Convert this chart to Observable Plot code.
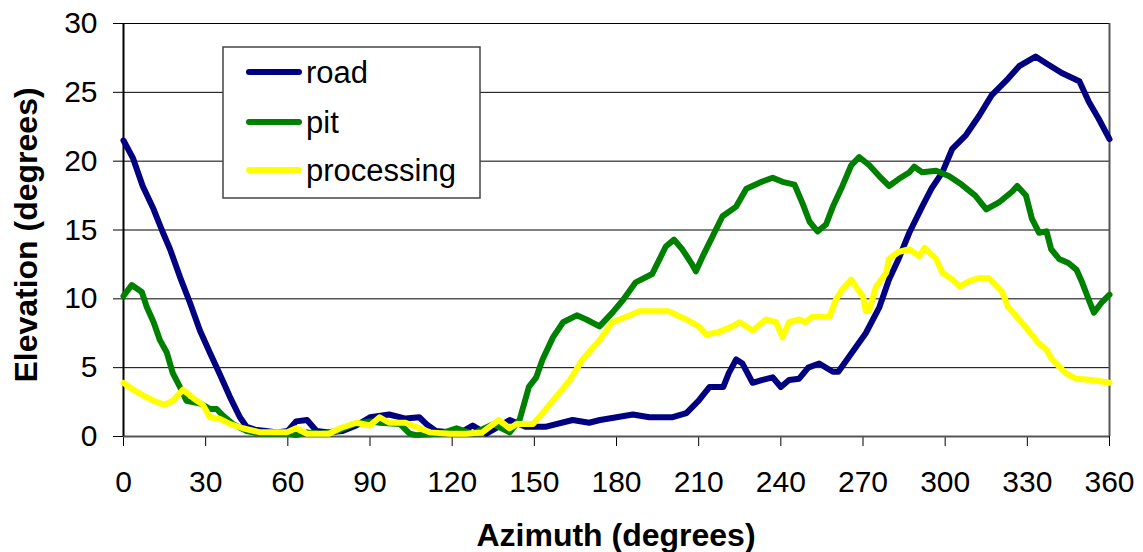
<!DOCTYPE html>
<html>
<head>
<meta charset="utf-8">
<script src="https://cdn.jsdelivr.net/npm/d3@7"></script>
<script src="https://cdn.jsdelivr.net/npm/@observablehq/plot@0.6"></script>
<style>
  html, body { margin: 0; padding: 0; background: #fff; }
  #chart { position: relative; width: 1143px; height: 552px; }
</style>
</head>
<body>
<div id="chart"></div>
<script>
// Azimuth (degrees), Elevation (degrees) for each series
const road = [
  [0,21.5],[3.5,20.2],[7,18.2],[11,16.5],[14,15],[17,13.6],[20.6,11.6],[24.3,9.7],[27.9,7.7],[31.5,6.1],
  [35,4.6],[38.8,2.9],[42.5,1.4],[45,0.7],[48,0.5],[52,0.4],[56,0.3],[60,0.4],[63,1.1],[67,1.2],
  [70.5,0.4],[75,0.3],[80,0.4],[85,0.8],[90,1.4],[97,1.6],[103,1.3],[108,1.4],[110.6,0.9],[114,0.4],
  [120,0.3],[124,0.4],[127.5,0.8],[132.5,0.2],[136,0.6],[141,1.2],[147,0.7],[154,0.7],[164,1.2],[170,1.0],
  [174,1.2],[180,1.4],[186,1.6],[192,1.4],[200.5,1.4],[205.5,1.7],[210,2.6],[214,3.6],[219,3.6],[221,4.6],
  [223.7,5.6],[226,5.3],[229.7,3.9],[233,4.1],[237,4.3],[240,3.6],[243,4.1],[246.7,4.2],[250,5.0],[254,5.3],
  [259,4.7],[261,4.7],[266,6.1],[271,7.5],[276,9.4],[279.5,11.4],[283,12.9],[286.9,14.8],[291.6,16.7],[295,18.0],
  [299,19.2],[302.6,20.9],[307.6,21.9],[312.4,23.3],[317,24.8],[323,26.0],[327,26.9],[333,27.6],[337,27.1],[342.6,26.4],
  [349,25.8],[352.5,24.3],[356,23.1],[360,21.6]
];
const pit = [
  [0,10.2],[3,11],[6.7,10.5],[8.5,9.4],[11,8.3],[13.3,7.0],[15.8,6.1],[18,4.6],[20.6,3.6],[23,2.6],
  [28,2.4],[31.5,2.0],[34,2.0],[36.4,1.5],[40,0.9],[45,0.4],[50,0.2],[60,0.2],[63,0.1],[67,0.3],
  [72,0.2],[78,0.4],[84,0.9],[90,1.1],[93.5,1.0],[101,0.9],[104.5,0.2],[107,0.1],[115.5,0.2],[121.6,0.6],
  [127.5,0.2],[135,0.9],[141,0.3],[144.6,1.2],[148,3.6],[150.7,4.3],[153,5.6],[156.8,7.2],[160.5,8.3],[165.5,8.8],
  [169,8.5],[173.8,8.0],[178.5,9.0],[182.3,9.9],[187,11.2],[193,11.8],[195,12.6],[198,13.8],[201,14.3],[204,13.6],
  [207.3,12.6],[209,12.0],[211.5,13.1],[214,14.1],[218.7,16.0],[223.7,16.7],[227.4,18.0],[233,18.5],[237,18.8],[240.6,18.5],
  [245,18.3],[248,16.9],[250.5,15.6],[253.4,14.9],[256.5,15.4],[259,16.7],[262.5,18.2],[265.7,19.7],[268.6,20.3],[272.3,19.7],
  [276,18.9],[279.5,18.2],[283,18.7],[287,19.2],[288.7,19.6],[291.6,19.2],[296.7,19.3],[301.5,18.9],[306,18.3],[311,17.5],
  [315,16.5],[319.6,17.0],[324.5,17.8],[326.3,18.2],[329.5,17.5],[331.7,15.8],[334.3,14.8],[337,14.9],[338.7,13.6],[341.6,12.9],
  [345,12.6],[348,12.1],[350,11.2],[352.5,9.9],[354.3,9.0],[357,9.7],[360,10.3]
];
const processing = [
  [0,3.9],[3.5,3.4],[7,3.0],[11,2.6],[15,2.3],[18,2.6],[21.7,3.4],[25.4,2.8],[29,2.3],[31.5,1.4],
  [35,1.3],[39,0.9],[43.6,0.6],[50,0.3],[59.6,0.3],[63,0.6],[67,0.2],[75,0.2],[79,0.6],[85,1.0],
  [90,0.8],[93.5,1.4],[97,1.0],[103,1.0],[108,0.6],[112,0.3],[119,0.2],[125,0.2],[131,0.3],[137,1.2],
  [141,0.6],[143.5,0.9],[149.5,0.9],[153,1.7],[158,2.9],[163,4.1],[167.6,5.6],[173.8,7.0],[178.5,8.3],[183.6,8.7],
  [188.4,9.1],[199,9.1],[205.5,8.5],[210,8.0],[212.8,7.4],[217.5,7.6],[222.3,8.0],[225,8.3],[229.7,7.7],[234.6,8.5],
  [238.3,8.3],[240.6,7.2],[243,8.3],[246.7,8.5],[249,8.3],[251.6,8.7],[257.8,8.7],[260,9.9],[262.5,10.7],[265.7,11.4],
  [268,10.7],[270,10.2],[271,9.1],[272.3,9.2],[274.8,10.9],[278.5,11.9],[279.5,12.9],[283,13.4],[286.9,13.6],[290.6,13.1],
  [292.5,13.7],[296.7,12.9],[299,11.9],[302.6,11.4],[305.3,10.9],[309,11.3],[312.4,11.5],[316,11.5],[320.8,10.5],[323,9.4],
  [327,8.5],[330.4,7.7],[334,6.8],[337,6.3],[339,5.6],[344,4.6],[347.7,4.2],[353.6,4.1],[360,3.9]
];
const seriesNames = ["road", "pit", "processing"];
const seriesColors = ["#000080", "#008000", "#FFFF00"];
const xTicks = [0,30,60,90,120,150,180,210,240,270,300,330,360];
const yTicks = [0,5,10,15,20,25,30];
const gridValues = [5,10,15,20,25,30];
const xLabel = "Azimuth (degrees)";
const yLabel = "Elevation (degrees)";

const seriesData = [road, pit, processing];

const W = 1143, H = 552;
const FONT = "'Liberation Sans', Arial, sans-serif";
const plot = Plot.plot({
  width: W,
  height: H,
  marginLeft: 123,
  marginRight: 34,
  marginTop: 23,
  marginBottom: 116,
  style: { fontFamily: FONT, fontSize: "30px", color: "#000", background: "#fff", overflow: "visible" },
  x: { domain: [0, 360], ticks: xTicks, tickSize: 10, tickPadding: 24, label: null },
  y: { domain: [0, 30], ticks: yTicks, tickSize: 10, tickPadding: 16, label: null },
  marks: [
    Plot.ruleY(gridValues, { stroke: "#000", strokeWidth: 1 }),
    Plot.ruleX([360], { stroke: "#555", strokeWidth: 2 }),
    Plot.ruleY([0], { stroke: "#555", strokeWidth: 2 }),
    Plot.ruleX([0], { stroke: "#000", strokeWidth: 2 }),
    ...seriesData.map((s, i) => Plot.line(s, {
      x: d => d[0], y: d => d[1],
      stroke: seriesColors[i], strokeWidth: 6,
      strokeLinejoin: "round", strokeLinecap: "round"
    }))
  ]
});

const svg = d3.select(plot);
// Axis titles
svg.append("text")
  .attr("x", 616).attr("y", 546)
  .attr("text-anchor", "middle")
  .attr("font-family", FONT)
  .attr("font-size", 32).attr("font-weight", "bold")
  .text(xLabel);
svg.append("text")
  .attr("transform", "translate(37,235) rotate(-90)")
  .attr("text-anchor", "middle")
  .attr("font-family", FONT)
  .attr("font-size", 32).attr("font-weight", "bold")
  .text(yLabel);

// Legend box
const lg = svg.append("g").attr("text-anchor", "start");
lg.append("rect").attr("x", 223).attr("y", 47).attr("width", 257).attr("height", 151)
  .attr("fill", "#fff").attr("stroke", "#444").attr("stroke-width", 1.5);
const legendY = [72, 122, 170];
seriesNames.forEach((name, i) => {
  lg.append("line").attr("x1", 249).attr("x2", 299).attr("y1", legendY[i]).attr("y2", legendY[i])
    .attr("stroke", seriesColors[i]).attr("stroke-width", 6).attr("stroke-linecap", "round");
  lg.append("text").attr("x", 306).attr("y", legendY[i]).attr("dy", "0.36em")
    .attr("text-anchor", "start")
    .attr("font-family", FONT).attr("font-size", 31)
    .text(name);
});

document.getElementById("chart").appendChild(plot);
</script>
</body>
</html>
